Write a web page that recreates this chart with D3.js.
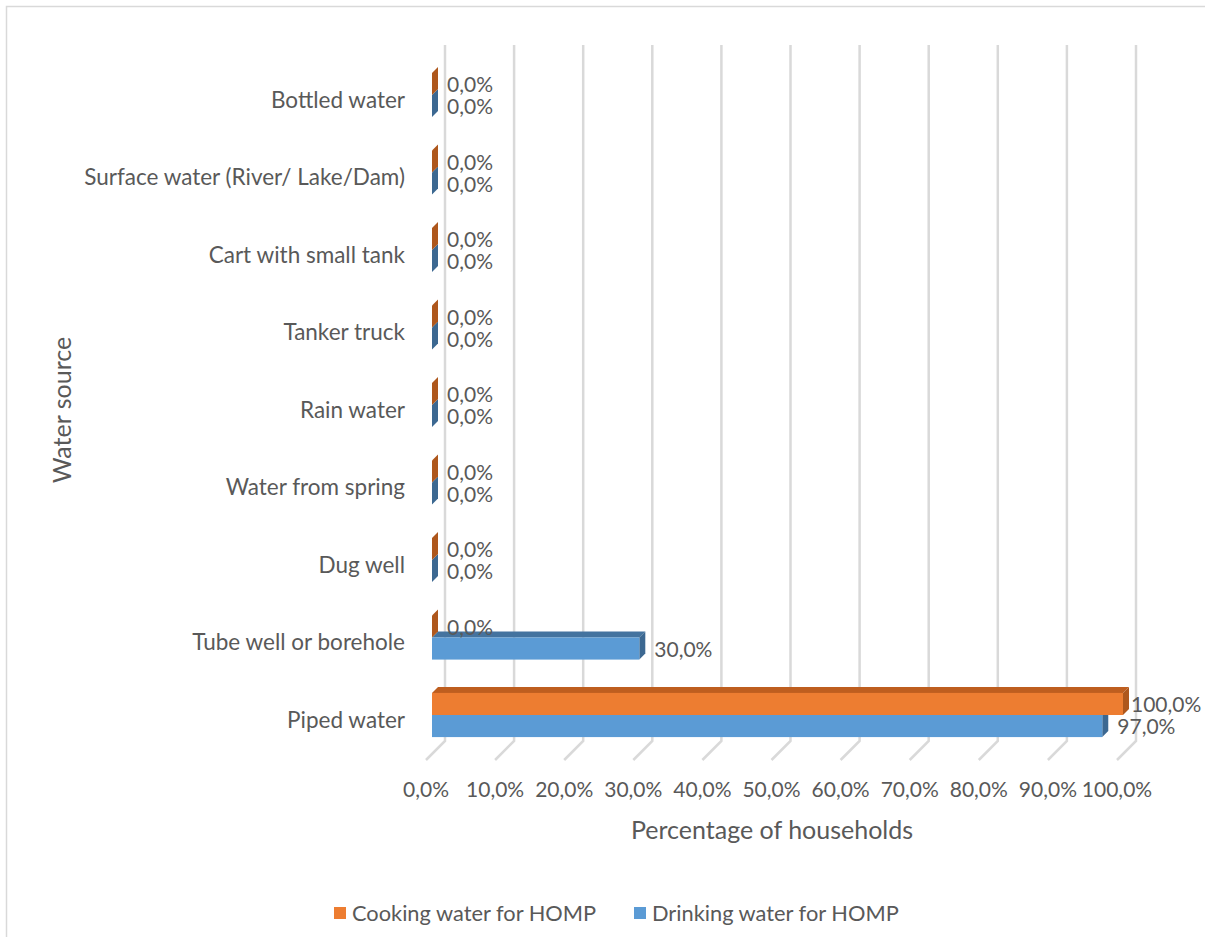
<!DOCTYPE html>
<html>
<head>
<meta charset="utf-8">
<script src="https://cdn.jsdelivr.net/npm/d3@7"></script>
<style>
  html, body { margin: 0; padding: 0; background: #fff; }
  svg { display: block; font-family: Lato, "Open Sans", sans-serif; }
</style>
</head>
<body>
<svg id="chart" width="1205" height="937"></svg>
<script>
// ---- data (bottom to top as in the chart) ----
const categories = ["Piped water", "Tube well or borehole", "Dug well", "Water from spring",
  "Rain water", "Tanker truck", "Cart with small tank", "Surface water (River/ Lake/Dam)", "Bottled water"];
const cookingWater = [100, 0, 0, 0, 0, 0, 0, 0, 0];
const drinkingWater = [97, 30, 0, 0, 0, 0, 0, 0, 0];
const seriesNames = ["Cooking water for HOMP", "Drinking water for HOMP"];
const tickValues = [0, 10, 20, 30, 40, 50, 60, 70, 80, 90, 100];
const xAxisTitle = "Percentage of households";
const yAxisTitle = "Water source";

const svg = d3.select("#chart");
const textColor = "#595959";
const gridColor = "#D9D9D9";
const fmt = v => d3.format(".1f")(v).replace(".", ",") + "%";

// chart border (extends past the picture on right/bottom)
svg.append("rect").attr("x", 6.5).attr("y", 6.5).attr("width", 1230).attr("height", 960)
  .attr("fill", "none").attr("stroke", gridColor).attr("stroke-width", 1.5);

// scales (front plane of the bars)
const x = d3.scaleLinear().domain([0, 100]).range([432, 1123]);
const y = d3.scaleBand().domain(categories.slice().reverse()).range([56.25, 753.75])
  .paddingInner(0.43).paddingOuter(0.215);
const series = d3.scaleBand().domain(seriesNames).range([0, y.bandwidth()]);

const wallOff = 13, floorOff = 6, depth = 6;
const wallTop = 45, wallBottom = 741, floorFront = 760;

// back wall gridlines + floor lines
const grid = svg.append("g").attr("stroke", gridColor).attr("stroke-width", 2.5).attr("fill", "none");
tickValues.forEach(t => {
  const xw = x(t) + wallOff;
  const xf = x(t) - floorOff;
  grid.append("path").attr("d", `M${xw},${wallTop}L${xw},${wallBottom}L${xf},${floorFront}`);
});

// tick labels
svg.append("g").selectAll("text").data(tickValues).join("text")
  .attr("x", d => x(d) - floorOff).attr("y", 797)
  .attr("text-anchor", "middle").attr("fill", textColor).attr("font-size", 21)
  .text(d => fmt(d));

// category labels
svg.append("g").selectAll("text").data(categories).join("text")
  .attr("x", 405).attr("y", d => y(d) + y.bandwidth() / 2 + 5)
  .attr("dy", "0.35em").attr("text-anchor", "end").attr("fill", textColor).attr("font-size", 22.5)
  .text(d => d);

// 3D bars
const colors = {
  "Cooking water for HOMP": { front: "#ED7D31", top: "#BE5E1F", side: "#AE571C" },
  "Drinking water for HOMP": { front: "#5B9BD5", top: "#44739F", side: "#3C6891" }
};
const valuesBySeries = { "Cooking water for HOMP": cookingWater, "Drinking water for HOMP": drinkingWater };

function drawBar(g, cat, s, v) {
  const c = colors[s];
  const y0 = y(cat) + series(s);
  const h = series.bandwidth();
  const x0 = x(0), x1 = x(v);
  g.append("path").attr("fill", c.top)
    .attr("d", `M${x0},${y0}L${x0 + depth},${y0 - depth}L${x1 + depth},${y0 - depth}L${x1},${y0}Z`);
  g.append("path").attr("fill", c.side)
    .attr("d", `M${x1},${y0}L${x1 + depth},${y0 - depth}L${x1 + depth},${y0 + h - depth}L${x1},${y0 + h}Z`);
  if (v > 0) g.append("rect").attr("fill", c.front).attr("x", x0).attr("y", y0).attr("width", x1 - x0).attr("height", h);
}

const bars = svg.append("g");
// draw lower series first so the upper one covers its top face
categories.forEach((cat, i) => {
  drawBar(bars, cat, seriesNames[1], drinkingWater[i]);
  drawBar(bars, cat, seriesNames[0], cookingWater[i]);
});

// value labels
const labels = svg.append("g").attr("fill", textColor).attr("font-size", 21);
seriesNames.forEach(s => {
  categories.forEach((cat, i) => {
    const v = valuesBySeries[s][i];
    labels.append("text")
      .attr("x", Math.min(x(v) + depth + 9, 1131))
      .attr("y", y(cat) + series(s) + series.bandwidth() / 2 + 1)
      .attr("dy", "0.35em")
      .text(fmt(v));
  });
});

// axis titles
svg.append("text").attr("x", 772).attr("y", 830).attr("dy", "0.35em").attr("text-anchor", "middle")
  .attr("fill", textColor).attr("font-size", 25).text(xAxisTitle);
svg.append("text").attr("transform", "translate(62,410) rotate(-90)").attr("dy", "0.35em")
  .attr("text-anchor", "middle").attr("fill", textColor).attr("font-size", 25).text(yAxisTitle);

// legend
const legend = svg.append("g");
const legendX = [334, 634];
seriesNames.forEach((s, i) => {
  legend.append("rect").attr("x", legendX[i]).attr("y", 907).attr("width", 12).attr("height", 12)
    .attr("fill", colors[s].front);
  legend.append("text").attr("x", legendX[i] + 18).attr("y", 913).attr("dy", "0.35em")
    .attr("fill", textColor).attr("font-size", 21.8).text(s);
});
</script>
</body>
</html>
